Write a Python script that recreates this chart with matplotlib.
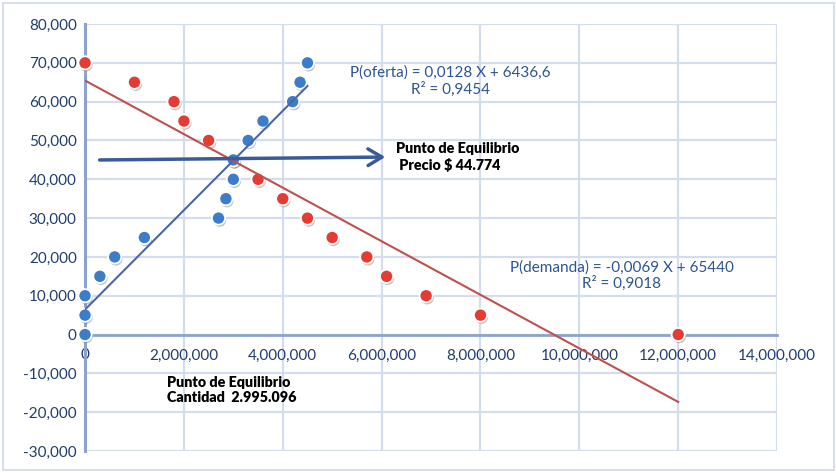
import matplotlib
matplotlib.use("Agg")
import matplotlib.pyplot as plt
import matplotlib.patheffects as pe
from matplotlib.patches import Rectangle
from matplotlib.ticker import FuncFormatter
import numpy as np

plt.rcParams['font.family'] = ['Lato', 'DejaVu Sans']

# Demand (red) points: quantity, price
demand_q = [0, 1000000, 1800000, 2000000, 2500000, 3000000, 3500000, 4000000,
            4500000, 5000000, 5700000, 6100000, 6900000, 8000000, 12000000]
demand_p = [70000, 65000, 60000, 55000, 50000, 45000, 40000, 35000,
            30000, 25000, 20000, 15000, 10000, 5000, 0]

# Supply (blue) points: quantity, price
supply_q = [0, 0, 0, 300000, 600000, 1200000, 2700000, 2850000, 3000000,
            3000000, 3300000, 3600000, 4200000, 4350000, 4500000]
supply_p = [0, 5000, 10000, 15000, 20000, 25000, 30000, 35000, 40000,
            45000, 50000, 55000, 60000, 65000, 70000]

# Trendline coefficients (from chart labels)
supply_slope, supply_icpt = 0.0128, 6436.6
demand_slope, demand_icpt = -0.0069, 65440

x_ticks = [0, 2000000, 4000000, 6000000, 8000000, 10000000, 12000000, 14000000]
y_ticks = [-30000, -20000, -10000, 0, 10000, 20000, 30000, 40000, 50000, 60000, 70000, 80000]

fig = plt.figure(figsize=(8.37, 4.73), dpi=100)
fig.patches.append(Rectangle((0.004, 0.006), 0.992, 0.988, transform=fig.transFigure,
                             fill=False, edgecolor='#D9DFEA', linewidth=1.5))
ax = fig.add_axes([0.1016, 0.0465, 0.8268, 0.9027])

ax.set_xlim(0, 14000000)
ax.set_ylim(-30000, 80000)
ax.set_xticks(x_ticks)
ax.set_yticks(y_ticks)
ax.xaxis.set_major_formatter(FuncFormatter(lambda v, p: f"{int(v):,}"))
ax.yaxis.set_major_formatter(FuncFormatter(lambda v, p: f"{int(v):,}"))
ax.grid(True, color='#D3DDEE', linewidth=1.6)
ax.set_axisbelow(True)

for s in ['top', 'right']:
    ax.spines[s].set_visible(False)
ax.spines['bottom'].set_position(('data', 0))
ax.spines['bottom'].set_color('#8DA3CF')
ax.spines['bottom'].set_linewidth(2.0)
ax.spines['left'].set_color('#8DA3CF')
ax.spines['left'].set_linewidth(2.2)
ax.tick_params(length=0, labelsize=11, labelcolor='#1F3E6E', pad=6)
ax.tick_params(axis='x', pad=10)

shadow = [pe.SimplePatchShadow(offset=(0.8, -1.5), shadow_rgbFace='#7a7a6a', alpha=0.45), pe.Normal()]

ax.plot(demand_q, demand_p, 'o', color='#E53B32', markersize=9.5, markeredgecolor='white',
        markeredgewidth=1.3, zorder=3, path_effects=shadow, linestyle='none', clip_on=False)
ax.plot(supply_q, supply_p, 'o', color='#3C7DCA', markersize=9.5, markeredgecolor='white',
        markeredgewidth=1.3, zorder=3, path_effects=shadow, linestyle='none', clip_on=False)

xs = np.array([0, max(supply_q)])
ax.plot(xs, supply_slope * xs + supply_icpt, color='#4A66A8', linewidth=1.5, zorder=4)
xd = np.array([0, max(demand_q)])
ax.plot(xd, demand_slope * xd + demand_icpt, color='#C0504D', linewidth=1.5, zorder=4)

ax.annotate('', xy=(6130000, 45740), xytext=(240000, 44970),
            arrowprops=dict(arrowstyle='->,head_length=1.0,head_width=0.6',
                            color='#3B5A9A', linewidth=2.5), zorder=5)

ax.text(7390000, 65300, "P(oferta) = 0,0128 X + 6436,6\nR² = 0,9454", ha='center', va='center',
        multialignment='center', fontsize=11, color='#2C5494', linespacing=1.1, zorder=6)
ax.text(10860000, 15200, "P(demanda) = -0,0069 X + 65440\nR² = 0,9018", ha='center', va='center',
        multialignment='center', fontsize=11, color='#2C5494', linespacing=1.1, zorder=6)

ax.text(6300000, 45700, "Punto de Equilibrio\n Precio $ 44.774", ha='left', va='center',
        fontsize=10.3, fontweight='heavy', color='black', linespacing=1.2, zorder=6)
ax.text(1660000, -14300, "Punto de Equilibrio\nCantidad  2.995.096", ha='left', va='center',
        fontsize=10.3, fontweight='heavy', color='black', linespacing=1.2, zorder=6)

fig.savefig('out.png', dpi=100)
